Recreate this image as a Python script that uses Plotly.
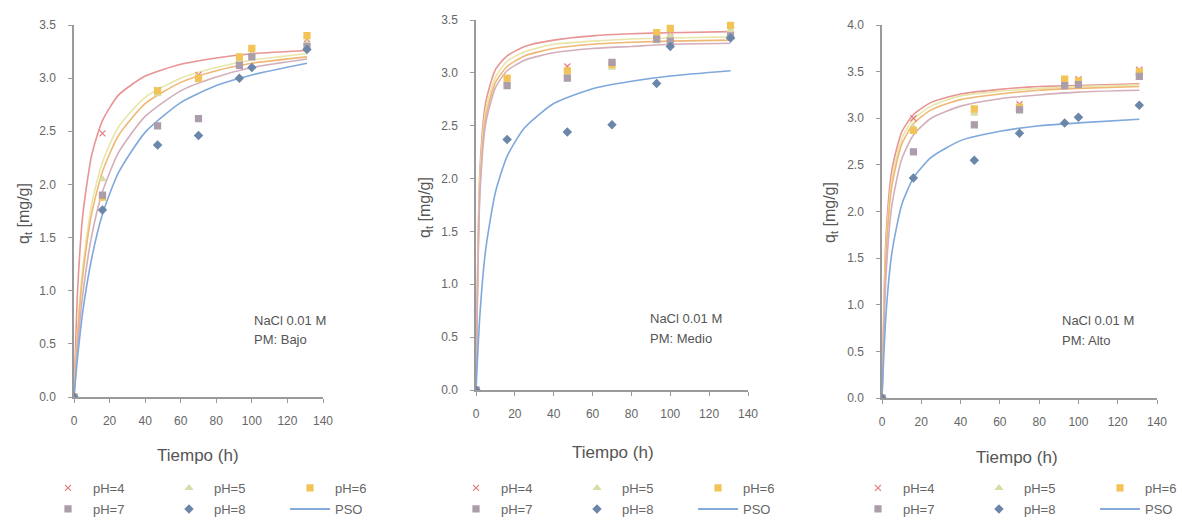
import plotly.graph_objects as go

# ---------------- data ----------------
ph_labels = ["pH=4", "pH=5", "pH=6", "pH=7", "pH=8"]
note_line1 = "NaCl 0.01 M"
note_line2 = ["PM: Bajo", "PM: Medio", "PM: Alto"]

t_obs = [0, 16, 47, 70, 93, 100, 131]
t_fit = [0, 2, 5, 10, 16, 25, 40, 60, 80, 100, 131]

# Panel 1 (PM: Bajo) observed q_t
bajo_ph4 = [0, 2.48, 2.89, 3.03, 3.18, 3.25, 3.37]
bajo_ph5 = [0, 2.05, 2.85, 2.98, 3.15, 3.22, 3.33]
bajo_ph6 = [0, 1.88, 2.88, 3.00, 3.20, 3.28, 3.40]
bajo_ph7 = [0, 1.90, 2.55, 2.62, 3.12, 3.20, 3.30]
bajo_ph8 = [0, 1.76, 2.37, 2.46, 3.00, 3.10, 3.27]
# Panel 1 PSO curves
bajo_fit4 = [0, 0.99, 1.72, 2.28, 2.60, 2.84, 3.02, 3.13, 3.19, 3.23, 3.26]
bajo_fit5 = [0, 0.63, 1.23, 1.82, 2.21, 2.54, 2.82, 3.00, 3.10, 3.17, 3.23]
bajo_fit6 = [0, 0.58, 1.15, 1.73, 2.12, 2.46, 2.76, 2.96, 3.07, 3.14, 3.20]
bajo_fit7 = [0, 0.47, 0.97, 1.52, 1.93, 2.30, 2.64, 2.88, 3.01, 3.10, 3.18]
bajo_fit8 = [0, 0.37, 0.81, 1.31, 1.72, 2.11, 2.49, 2.77, 2.93, 3.03, 3.14]

# Panel 2 (PM: Medio)
medio_ph4 = [0, 2.93, 3.06, 3.10, 3.35, 3.38, 3.42]
medio_ph5 = [0, 2.90, 2.98, 3.05, 3.30, 3.35, 3.40]
medio_ph6 = [0, 2.95, 3.02, 3.08, 3.38, 3.42, 3.45]
medio_ph7 = [0, 2.88, 2.95, 3.10, 3.32, 3.30, 3.35]
medio_ph8 = [0, 2.37, 2.44, 2.51, 2.90, 3.25, 3.33]
medio_fit4 = [0, 2.07, 2.72, 3.03, 3.16, 3.25, 3.31, 3.35, 3.37, 3.38, 3.39]
medio_fit5 = [0, 1.99, 2.64, 2.96, 3.11, 3.20, 3.27, 3.30, 3.32, 3.33, 3.34]
medio_fit6 = [0, 1.91, 2.58, 2.91, 3.06, 3.16, 3.23, 3.27, 3.29, 3.30, 3.31]
medio_fit7 = [0, 1.84, 2.52, 2.86, 3.02, 3.12, 3.19, 3.23, 3.25, 3.27, 3.28]
medio_fit8 = [0, 0.71, 1.33, 1.87, 2.21, 2.48, 2.71, 2.85, 2.92, 2.97, 3.02]

# Panel 3 (PM: Alto)
alto_ph4 = [0, 3.00, 3.09, 3.15, 3.41, 3.42, 3.52]
alto_ph5 = [0, 2.90, 3.05, 3.10, 3.38, 3.38, 3.48]
alto_ph6 = [0, 2.87, 3.10, 3.12, 3.42, 3.40, 3.50]
alto_ph7 = [0, 2.64, 2.93, 3.09, 3.35, 3.36, 3.45]
alto_ph8 = [0, 2.36, 2.55, 2.84, 2.95, 3.01, 3.14]
alto_fit4 = [0, 1.71, 2.44, 2.85, 3.04, 3.17, 3.26, 3.31, 3.34, 3.35, 3.37]
alto_fit5 = [0, 1.59, 2.34, 2.78, 2.99, 3.13, 3.24, 3.29, 3.32, 3.34, 3.36]
alto_fit6 = [0, 1.51, 2.27, 2.72, 2.94, 3.09, 3.20, 3.26, 3.30, 3.32, 3.34]
alto_fit7 = [0, 1.30, 2.06, 2.56, 2.82, 3.00, 3.13, 3.21, 3.25, 3.28, 3.30]
alto_fit8 = [0, 0.89, 1.55, 2.07, 2.36, 2.58, 2.76, 2.86, 2.92, 2.95, 2.99]

x_ticks = [0, 20, 40, 60, 80, 100, 120, 140]
y_max = [3.5, 3.5, 4.0]

obs_sets = [
    [bajo_ph4, bajo_ph5, bajo_ph6, bajo_ph7, bajo_ph8],
    [medio_ph4, medio_ph5, medio_ph6, medio_ph7, medio_ph8],
    [alto_ph4, alto_ph5, alto_ph6, alto_ph7, alto_ph8],
]
fit_sets = [
    [bajo_fit4, bajo_fit5, bajo_fit6, bajo_fit7, bajo_fit8],
    [medio_fit4, medio_fit5, medio_fit6, medio_fit7, medio_fit8],
    [alto_fit4, alto_fit5, alto_fit6, alto_fit7, alto_fit8],
]

# ---------------- styles ----------------
W, H = 1182, 520
marker_colors = ["#e27c7c", "#d9dca6", "#f2c458", "#ab9dab", "#6a86a8"]
marker_symbols = ["x-thin", "triangle-up", "square", "square", "diamond"]
fit_colors = ["#e99494", "#e8e6a8", "#efb874", "#d3aebb", "#7fa8dc"]
font_family = "Liberation Sans, Arial, sans-serif"
txt_color = "#666666"

# page-pixel geometry of each panel: (x0, x140, y0, ytop)
panels_px = [(74, 323, 397, 25), (476, 748, 390, 20), (882, 1157, 398, 25)]
ytitle_px = [(24, 213), (425, 208), (830, 213)]
xtitle_px = [(198, 455), (613, 452), (1017, 457)]
note_px = [(252, 320, 339), (648, 318, 338), (1060, 320, 340)]
legend_marker_px = [67, 475, 877]
legend_rows_py = [488, 509]

def px(x):
    return x / W

def py(y):
    return 1 - y / H

fig = go.Figure()
annotations = []
layout_axes = {}

for p in range(3):
    xa = "x" if p == 0 else f"x{p+1}"
    ya = "y" if p == 0 else f"y{p+1}"
    leg_r1 = "legend" if p == 0 else f"legend{2*p+1}"
    leg_r2 = f"legend{2*p+2}"
    # fit curves
    for i in range(5):
        fig.add_trace(go.Scatter(
            x=t_fit, y=fit_sets[p][i], mode="lines",
            line=dict(color=fit_colors[i], width=1.6, shape="spline", smoothing=0.6),
            name="PSO", showlegend=False, xaxis=xa, yaxis=ya, hoverinfo="skip"))
    # observed markers
    for i in range(5):
        leg = leg_r1 if i < 3 else leg_r2
        fig.add_trace(go.Scatter(
            x=t_obs, y=obs_sets[p][i], mode="markers", name=ph_labels[i],
            marker=dict(color=marker_colors[i], symbol=marker_symbols[i], size=6,
                        line=dict(color=marker_colors[i], width=1.2)),
            legend=leg, xaxis=xa, yaxis=ya))
    # PSO legend entry (blue line)
    fig.add_trace(go.Scatter(
        x=[None], y=[None], mode="lines", name="PSO",
        line=dict(color="#5b8fd0", width=1.6), legend=leg_r2, xaxis=xa, yaxis=ya))

    x0, x1, y0, y1 = panels_px[p]
    key = "" if p == 0 else str(p + 1)
    layout_axes["xaxis" + key] = dict(
        domain=[px(x0), px(x1)], range=[0, 140], tickvals=x_ticks,
        showgrid=False, zeroline=False, showline=True, linecolor="#9a9a9a", linewidth=1.5,
        ticks="outside", ticklen=4, tickcolor="#9a9a9a", ticklabelstandoff=8,
        tickfont=dict(size=12, color=txt_color, family=font_family),
        anchor=ya, fixedrange=True)
    layout_axes["yaxis" + key] = dict(
        domain=[py(y0), py(y1)], range=[0, y_max[p]], dtick=0.5, tickformat=".1f",
        showgrid=False, zeroline=False, showline=True, linecolor="#9a9a9a", linewidth=1.5,
        ticks="outside", ticklen=4, tickcolor="#9a9a9a", ticklabelstandoff=10,
        tickfont=dict(size=12, color=txt_color, family=font_family),
        anchor=xa, fixedrange=True)

    annotations.append(dict(
        x=px(ytitle_px[p][0]), y=py(ytitle_px[p][1]), xref="paper", yref="paper",
        xanchor="center", yanchor="middle",
        text="q<sub>t</sub> [mg/g]", textangle=-90, showarrow=False,
        font=dict(size=16, color="#555555", family=font_family)))
    annotations.append(dict(
        x=px(xtitle_px[p][0]), y=py(xtitle_px[p][1]), xref="paper", yref="paper",
        xanchor="center", yanchor="middle",
        text="Tiempo (h)", showarrow=False,
        font=dict(size=17, color="#555555", family=font_family)))
    annotations.append(dict(
        x=px(note_px[p][0]), y=py(note_px[p][1]), xref="paper", yref="paper",
        xanchor="left", yanchor="middle", text=note_line1, showarrow=False,
        font=dict(size=13, color="#555555", family=font_family)))
    annotations.append(dict(
        x=px(note_px[p][0]), y=py(note_px[p][2]), xref="paper", yref="paper",
        xanchor="left", yanchor="middle", text=note_line2[p], showarrow=False,
        font=dict(size=13, color="#555555", family=font_family)))

legends = {}
for p in range(3):
    for r in range(2):
        name = "legend" if (p == 0 and r == 0) else f"legend{2*p + r + 1}"
        legends[name] = dict(
            x=px(legend_marker_px[p] - 24), y=py(legend_rows_py[r]),
            xanchor="left", yanchor="middle",
            orientation="h", entrywidth=66, entrywidthmode="pixels",
            bgcolor="rgba(0,0,0,0)", itemwidth=40, tracegroupgap=0,
            font=dict(size=13, color=txt_color, family=font_family))

fig.update_layout(
    width=W, height=H, margin=dict(l=0, r=0, t=0, b=0, autoexpand=False),
    plot_bgcolor="white", paper_bgcolor="white",
    annotations=annotations, showlegend=True,
    **layout_axes, **legends)

fig.write_html(
    "out.html",
    config={"displayModeBar": False},
    post_script="document.body.style.margin='0';document.body.style.overflow='hidden';")
